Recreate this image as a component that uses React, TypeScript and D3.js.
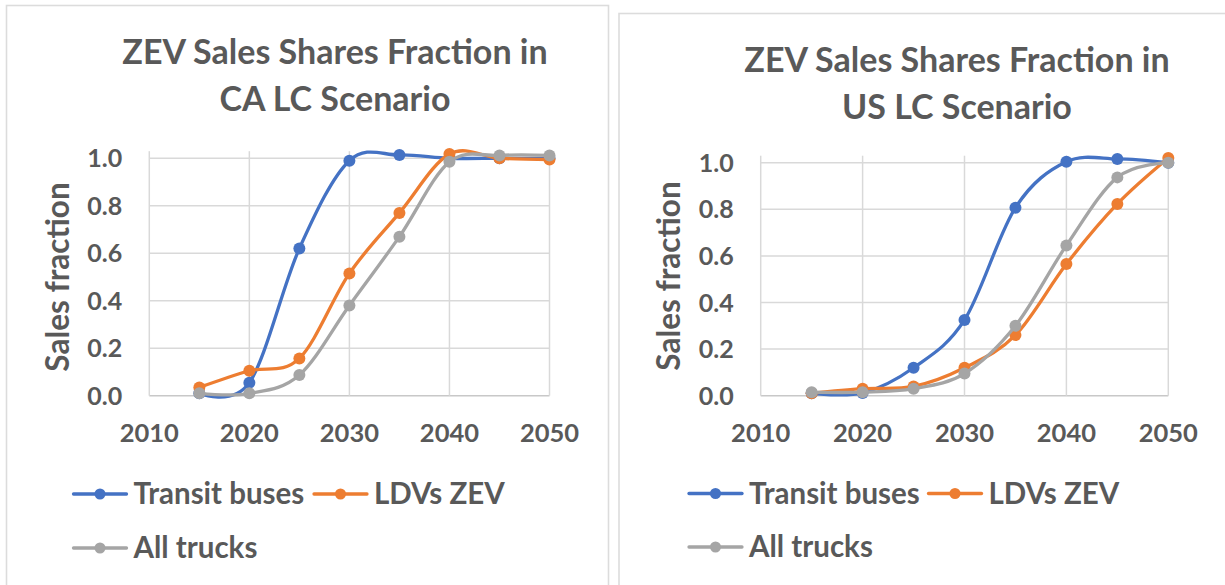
import React from 'react';
import * as d3 from 'd3';

const years = [2015, 2020, 2025, 2030, 2035, 2040, 2045, 2050];

const caTransit = [0.01, 0.055, 0.62, 0.99, 1.014, 1.0, 1.0, 1.0];
const caLDV = [0.035, 0.105, 0.157, 0.515, 0.77, 1.018, 1.0, 0.995];
const caTrucks = [0.01, 0.01, 0.087, 0.38, 0.67, 0.985, 1.012, 1.012];

const usTransit = [0.01, 0.012, 0.12, 0.325, 0.807, 1.004, 1.016, 1.0];
const usLDV = [0.01, 0.03, 0.04, 0.12, 0.26, 0.565, 0.823, 1.02];
const usTrucks = [0.015, 0.015, 0.03, 0.095, 0.3, 0.645, 0.937, 1.0];

const seriesNames = ['Transit buses', 'LDVs ZEV', 'All trucks'];
const seriesColors = ['#4472C4', '#ED7D31', '#A5A5A5'];
const xTicks = [2010, 2020, 2030, 2040, 2050];
const yTicks = [0, 0.2, 0.4, 0.6, 0.8, 1.0];

const titlesCA = ['ZEV Sales Shares Fraction in', 'CA LC Scenario'];
const titlesUS = ['ZEV Sales Shares Fraction in', 'US LC Scenario'];
const yAxisTitle = 'Sales fraction';

const FONT = 'Lato, "Open Sans", sans-serif';
const TEXT = '#595959';

type Cfg = {
  frame: [number, number, number, number];
  x0: number; x1: number; yTop: number; yBottom: number;
  titleX: number; titleY: [number, number];
  yTitleX: number; yTitleY: number;
  legend: { lx: number[]; rowY: number[] };
};

function Chart({ cfg, data, titles }: { cfg: Cfg; data: number[][]; titles: string[] }) {
  const x = d3.scaleLinear().domain([2010, 2050]).range([cfg.x0, cfg.x1]);
  const y = d3.scaleLinear().domain([0, 1]).range([cfg.yBottom, cfg.yTop]);
  const line = d3
    .line<number>()
    .x((_, i) => x(years[i]))
    .y((d) => y(d))
    .curve(d3.curveCardinal.tension(0));
  const plotTop = y(1.03);
  const legendPos = [
    { lx: cfg.legend.lx[0], ly: cfg.legend.rowY[0] },
    { lx: cfg.legend.lx[1], ly: cfg.legend.rowY[0] },
    { lx: cfg.legend.lx[0], ly: cfg.legend.rowY[1] },
  ];
  const [fx, fy, fw, fh] = cfg.frame;
  return (
    <g>
      <rect x={fx} y={fy} width={fw} height={fh} fill="#fff" stroke="#dcdcdc" strokeWidth={1.6} />
      {titles.map((t, i) => (
        <text key={t} x={cfg.titleX} y={cfg.titleY[i]} textAnchor="middle" fontFamily={FONT}
          fontWeight="bold" fontSize={34} fill={TEXT}>{t}</text>
      ))}
      {yTicks.map((t) => (
        <line key={'h' + t} x1={cfg.x0} x2={cfg.x1} y1={y(t)} y2={y(t)}
          stroke={t === 0 ? '#c8c8c8' : '#d9d9d9'} strokeWidth={1.5} />
      ))}
      {xTicks.map((t) => (
        <line key={'v' + t} x1={x(t)} x2={x(t)} y1={plotTop} y2={y(0)} stroke="#d9d9d9" strokeWidth={1.5} />
      ))}
      {yTicks.map((t) => (
        <text key={'yl' + t} x={cfg.x0 - 27} y={y(t)} dy="0.36em" textAnchor="end" fontFamily={FONT}
          fontWeight="bold" fontSize={25} fill={TEXT}>{d3.format('.1f')(t)}</text>
      ))}
      {xTicks.map((t) => (
        <text key={'xl' + t} x={x(t)} y={cfg.yBottom + 46.5} textAnchor="middle" fontFamily={FONT}
          fontWeight="bold" fontSize={25.5} fill={TEXT}>{t}</text>
      ))}
      <text transform={`translate(${cfg.yTitleX},${cfg.yTitleY}) rotate(-90)`} textAnchor="middle"
        dy="0.36em" fontFamily={FONT} fontWeight="bold" fontSize={31.5} fill={TEXT}>{yAxisTitle}</text>
      {data.map((s, si) => (
        <g key={'s' + si}>
          <path d={line(s) || ''} fill="none" stroke={seriesColors[si]} strokeWidth={3.3} strokeLinecap="round" />
          {s.map((v, i) => (
            <circle key={i} cx={x(years[i])} cy={y(v)} r={6} fill={seriesColors[si]} />
          ))}
        </g>
      ))}
      {legendPos.map((p, si) => (
        <g key={'lg' + si}>
          <line x1={p.lx} x2={p.lx + 53} y1={p.ly} y2={p.ly} stroke={seriesColors[si]} strokeWidth={3.3} strokeLinecap="round" />
          <circle cx={p.lx + 26.5} cy={p.ly} r={5.5} fill={seriesColors[si]} />
          <text x={p.lx + 60} y={p.ly + 10} fontFamily={FONT} fontWeight="bold" fontSize={29.5} fill={TEXT}>
            {seriesNames[si]}
          </text>
        </g>
      ))}
    </g>
  );
}

const cfgCA: Cfg = {
  frame: [6.5, 5.5, 602, 620],
  x0: 149.3, x1: 549.5, yTop: 158.3, yBottom: 395.7,
  titleX: 335, titleY: [64, 110.5],
  yTitleX: 58, yTitleY: 277,
  legend: { lx: [73.5, 314], rowY: [494, 548] },
};

const cfgUS: Cfg = {
  frame: [619, 13.5, 700, 620],
  x0: 760.7, x1: 1168.3, yTop: 162.7, yBottom: 395.7,
  titleX: 957, titleY: [72, 118.5],
  yTitleX: 668.5, yTitleY: 276,
  legend: { lx: [689, 928.5], rowY: [493.5, 547] },
};

export default function App() {
  return (
    <svg width={1225} height={585} style={{ position: 'absolute', left: 0, top: 0, background: '#fff' }}>
      <rect x={0} y={0} width={1225} height={585} fill="#fff" />
      <Chart cfg={cfgCA} data={[caTransit, caLDV, caTrucks]} titles={titlesCA} />
      <Chart cfg={cfgUS} data={[usTransit, usLDV, usTrucks]} titles={titlesUS} />
    </svg>
  );
}
